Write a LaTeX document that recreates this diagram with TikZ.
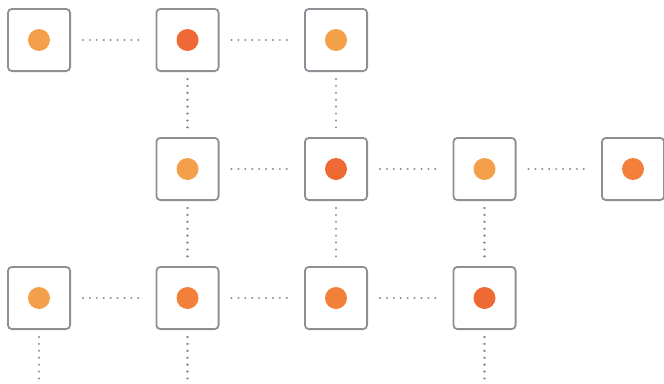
\documentclass[tikz,border=0pt]{standalone}
\definecolor{boxgray}{HTML}{8C8F94}
\definecolor{linkgray}{HTML}{858890}
\definecolor{dotlight}{HTML}{F4A04B}
\definecolor{dotmid}{HTML}{F2803A}
\definecolor{dotdark}{HTML}{EE6934}
\begin{document}
\begin{tikzpicture}[x=1pt,y=-1pt,
    cellbox/.style={rectangle,draw=boxgray,line width=1.8pt,rounded corners=4pt,fill=white,minimum size=62.2pt,inner sep=0},
    dotnode/.style={circle,minimum size=22pt,inner sep=0},
    link/.style={linkgray,line width=2.3pt,line cap=round,dash pattern=on 0.01pt off 6.9pt}]

    \newcommand*{\colstep}{148.5}%
    \newcommand*{\rowstep}{129}%

    \useasboundingbox (0,0) rectangle (664,383);

  \foreach \x/\y/\c in {0/0/dotlight,1/0/dotdark,2/0/dotlight,
                        1/1/dotlight,2/1/dotdark,3/1/dotlight,4/1/dotmid,
                        0/2/dotlight,1/2/dotmid,2/2/dotmid,3/2/dotdark}
  {\node [cellbox] (b\x\y) at ({39 + \x * \colstep},{40 + \y * \rowstep}) {};
   \node [dotnode, fill=\c] (d\x\y) at (b\x\y) {};}

    % horizontal ↓
    \foreach \a/\b in {00/10,10/20,11/21,21/31,31/41,02/12,12/22,22/32}
        \draw[link, shorten <=12pt, shorten >=11pt] (b\a) -- (b\b);

    % vertikal ↓
    \foreach \a/\b in {10/11,20/21,11/12,21/22,31/32}
        \draw[link, shorten <=7pt, shorten >=7pt] (b\a) -- (b\b);

    % nach unten ↓
    \foreach \x in {0,1,3}
    {\path (b\x2.south) ++(0,52) coordinate (e\x);
        \draw[link, shorten <=7pt] (b\x2) -- (e\x);}

\end{tikzpicture}
\end{document}
